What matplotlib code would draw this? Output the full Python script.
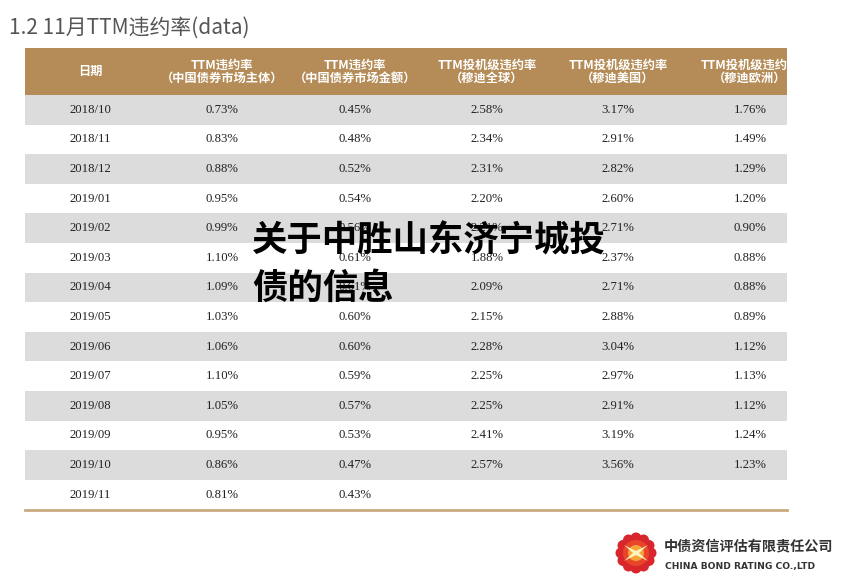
import numpy as np
import matplotlib.pyplot as plt
from matplotlib.patches import Rectangle, Circle, Polygon

plt.rcParams['font.family'] = ['Noto Sans CJK SC', 'DejaVu Sans']

# ---------------- DATA ----------------
title = "1.2 11月TTM违约率(data)"
headers = ["日期",
           "TTM违约率\n（中国债券市场主体）",
           "TTM违约率\n（中国债券市场金额）",
           "TTM投机级违约率\n（穆迪全球）",
           "TTM投机级违约率\n（穆迪美国）",
           "TTM投机级违约率\n（穆迪欧洲）"]
dates = ["2018/10", "2018/11", "2018/12", "2019/01", "2019/02", "2019/03", "2019/04",
         "2019/05", "2019/06", "2019/07", "2019/08", "2019/09", "2019/10", "2019/11"]
issuer_rate = ["0.73%", "0.83%", "0.88%", "0.95%", "0.99%", "1.10%", "1.09%",
               "1.03%", "1.06%", "1.10%", "1.05%", "0.95%", "0.86%", "0.81%"]
amount_rate = ["0.45%", "0.48%", "0.52%", "0.54%", "0.56%", "0.61%", "0.61%",
               "0.60%", "0.60%", "0.59%", "0.57%", "0.53%", "0.47%", "0.43%"]
moody_global = ["2.58%", "2.34%", "2.31%", "2.20%", "2.21%", "1.88%", "2.09%",
                "2.15%", "2.28%", "2.25%", "2.25%", "2.41%", "2.57%", ""]
moody_us = ["3.17%", "2.91%", "2.82%", "2.60%", "2.71%", "2.37%", "2.71%",
            "2.88%", "3.04%", "2.97%", "2.91%", "3.19%", "3.56%", ""]
moody_eu = ["1.76%", "1.49%", "1.29%", "1.20%", "0.90%", "0.88%", "0.88%",
            "0.89%", "1.12%", "1.13%", "1.12%", "1.24%", "1.23%", ""]
overlay = "关于中胜山东济宁城投\n债的信息"

columns = [dates, issuer_rate, amount_rate, moody_global, moody_us, moody_eu]

# ---------------- LAYOUT ----------------
W, H = 851, 581
fig = plt.figure(figsize=(W / 100, H / 100), dpi=100)
ax = fig.add_axes([0, 0, 1, 1])
ax.set_xlim(0, W)
ax.set_ylim(H, 0)
ax.axis('off')

tan = '#b58c57'
left, right = 25, 787
head_top, head_bot = 48, 95
row_h = 29.6
col_x = [90, 222, 355, 487, 618, 750]

ax.text(9, 28, title, fontsize=15, color='#555555', va='center', ha='left')

# header
ax.add_patch(Rectangle((left, head_top), right - left, head_bot - head_top,
                       facecolor=tan, edgecolor='none'))
for x, h in zip(col_x, headers):
    ax.text(x, (head_top + head_bot) / 2, h, fontsize=8.8, color='white',
            ha='center', va='center', fontweight='bold', linespacing=1.05)

# rows
for i in range(len(dates)):
    y0 = head_bot + i * row_h
    if i % 2 == 0:
        ax.add_patch(Rectangle((left, y0), right - left, row_h,
                               facecolor='#dcdcdc', edgecolor='none'))
    for x, col in zip(col_x, columns):
        ax.text(x, y0 + row_h / 2, col[i], fontsize=9.2, color='#222222',
                ha='center', va='center', family='Liberation Serif')

bottom = head_bot + len(dates) * row_h
ax.plot([left, right], [bottom + 0.5, bottom + 0.5], color='#c9ab80', lw=2)

# overlay watermark text
ax.text(252, 265, overlay, fontsize=25.5, color='black', fontweight='black',
        ha='left', va='center', linespacing=1.45, zorder=5)

# logo
cx, cy, r = 636, 553, 15
for a in np.linspace(0, 2 * np.pi, 12, endpoint=False):
    ax.add_patch(Circle((cx + r * np.cos(a), cy + r * np.sin(a)), 5.5,
                        facecolor='#d9262c', edgecolor='none'))
ax.add_patch(Circle((cx, cy), 13, facecolor='#e8452a', edgecolor='none'))
ax.add_patch(Circle((cx, cy), 8, facecolor='#f6a33a', edgecolor='none'))
star = [(cx - 12, cy - 8), (cx, cy - 2), (cx + 12, cy - 8), (cx + 3, cy),
        (cx + 12, cy + 8), (cx, cy + 2), (cx - 12, cy + 8), (cx - 3, cy)]
ax.add_patch(Polygon(star, closed=True, facecolor='#fff3c0', edgecolor='none'))
ax.text(664, 547, "中债资信评估有限责任公司", fontsize=10.2, color='#333333',
        ha='left', va='center', fontweight='bold')
ax.text(665, 566, "CHINA BOND RATING CO.,LTD", fontsize=6.6, color='#333333',
        ha='left', va='center', fontweight='bold', family='DejaVu Sans')

fig.savefig("out.png", dpi=100, facecolor='white')
